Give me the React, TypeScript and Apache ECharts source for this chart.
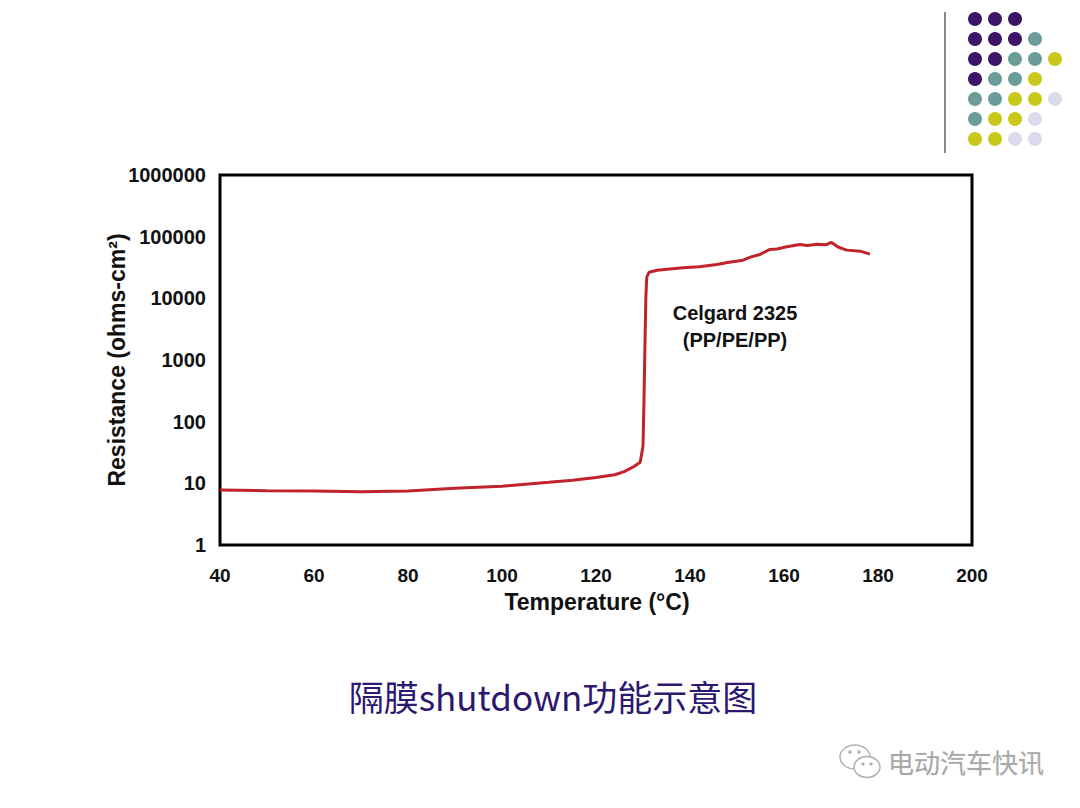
import React, { useEffect, useRef } from "react";
import * as echarts from "echarts";

const temps = [40, 50, 60, 70, 80, 90, 100, 110, 115, 120, 124, 126, 128, 129.4, 130.0, 130.2, 130.4, 130.6, 130.8, 131.3, 133, 138.5, 142, 145.7, 148, 151.3, 153, 154.9, 157, 158.5, 160.6, 163.4, 165, 167, 169, 170.1, 171.5, 173.3, 176.2, 178.3];
const resistance = [7.8, 7.6, 7.5, 7.3, 7.5, 8.3, 9.0, 10.4, 11.2, 12.4, 13.8, 15.5, 18.6, 22, 40, 200, 1500, 10000, 22000, 26500, 28500, 31200, 32500, 35400, 38000, 41600, 47000, 51500, 62200, 63000, 68400, 74700, 72000, 75500, 74000, 80500, 68000, 60500, 58200, 52000];

const xTicks = [40, 60, 80, 100, 120, 140, 160, 180, 200];
const yTicks = [1, 10, 100, 1000, 10000, 100000, 1000000];

const xTitle = "Temperature (°C)";
const yTitle = "Resistance (ohms-cm²)";
const annotation = ["Celgard 2325", "(PP/PE/PP)"];
const caption = "隔膜shutdown功能示意图";
const watermark = "电动汽车快讯";

// decorative dot grid: P purple, T teal, Y yellow, L lavender
const dotRows = ["PPP", "PPPT", "PPTTY", "PTTY", "TTYYL", "TYYL", "YYLL"];
const dotColors: Record<string, string> = { P: "#3c1468", T: "#6c9c99", Y: "#c9c91c", L: "#dadaec" };

export default function App() {
  const ref = useRef<HTMLDivElement>(null);
  useEffect(() => {
    if (!ref.current) return;
    const chart = echarts.init(ref.current, undefined, { renderer: "svg" });
    const font = "'Liberation Sans', Arial, sans-serif";
    const dots: any[] = [];
    dotRows.forEach((row, r) => {
      row.split("").forEach((c, i) => {
        dots.push({
          type: "circle",
          shape: { cx: 975 + i * 20, cy: 19 + r * 20, r: 7 },
          style: { fill: dotColors[c] },
          silent: true,
        });
      });
    });
    chart.setOption({
      animation: false,
      backgroundColor: "#ffffff",
      grid: {
        left: 220,
        top: 175,
        right: 108,
        bottom: 263,
        show: true,
        borderColor: "#000",
        borderWidth: 3,
        backgroundColor: "transparent",
      },
      xAxis: {
        type: "value",
        min: 40,
        max: 200,
        interval: 20,
        axisLine: { show: false },
        axisTick: { show: false },
        splitLine: { show: false },
        axisLabel: {
          margin: 21,
          color: "#111",
          fontFamily: font,
          fontWeight: "bold",
          fontSize: 19,
          formatter: (v: number) => (xTicks.includes(v) ? String(v) : ""),
        },
      },
      yAxis: {
        type: "log",
        logBase: 10,
        min: 1,
        max: 1000000,
        splitNumber: 6,
        axisLine: { show: false },
        axisTick: { show: false },
        splitLine: { show: false },
        axisLabel: {
          margin: 14,
          color: "#111",
          fontFamily: font,
          fontWeight: "bold",
          fontSize: 20,
          formatter: (v: number) => {
            const r = Math.round(v);
            return yTicks.includes(r) ? String(r) : "";
          },
        },
      },
      series: [
        {
          type: "line",
          data: temps.map((t, i) => [t, resistance[i]]),
          showSymbol: false,
          symbol: "none",
          lineStyle: { color: "#c1232b", width: 3 },
          silent: true,
        },
      ],
      graphic: [
        {
          type: "text",
          x: 597,
          y: 602,
          style: {
            text: xTitle,
            font: `bold 23px ${font}`,
            fill: "#111",
            textAlign: "center",
            textVerticalAlign: "middle",
          },
        },
        {
          type: "text",
          x: 117,
          y: 360,
          rotation: Math.PI / 2,
          style: {
            text: yTitle,
            font: `bold 23px ${font}`,
            fill: "#111",
            textAlign: "center",
            textVerticalAlign: "middle",
          },
        },
        {
          type: "text",
          x: 735,
          y: 313,
          style: {
            text: annotation[0],
            font: `bold 20px ${font}`,
            fill: "#111",
            textAlign: "center",
            textVerticalAlign: "middle",
          },
        },
        {
          type: "text",
          x: 735,
          y: 340,
          style: {
            text: annotation[1],
            font: `bold 20px ${font}`,
            fill: "#111",
            textAlign: "center",
            textVerticalAlign: "middle",
          },
        },
        {
          type: "text",
          x: 553,
          y: 695,
          style: {
            text: caption,
            font: `35px 'Noto Sans CJK SC', sans-serif`,
            fill: "#2c1870",
            textAlign: "center",
            textVerticalAlign: "middle",
          },
        },
        {
          type: "line",
          shape: { x1: 945, y1: 12, x2: 945, y2: 153 },
          style: { stroke: "#8a8a8a", lineWidth: 2 },
        },
        ...dots,
        // wechat-like icon
        {
          type: "ellipse",
          shape: { cx: 855, cy: 757, rx: 15, ry: 12 },
          style: { fill: "#fff", stroke: "#b0b0b0", lineWidth: 1.5 },
        },
        {
          type: "ellipse",
          shape: { cx: 867, cy: 767, rx: 13, ry: 10.5 },
          style: { fill: "#fff", stroke: "#b0b0b0", lineWidth: 1.5 },
        },
        { type: "circle", shape: { cx: 850, cy: 752, r: 1.8 }, style: { fill: "#b0b0b0" } },
        { type: "circle", shape: { cx: 859, cy: 752, r: 1.8 }, style: { fill: "#b0b0b0" } },
        { type: "circle", shape: { cx: 863, cy: 764, r: 1.6 }, style: { fill: "#b0b0b0" } },
        { type: "circle", shape: { cx: 871, cy: 764, r: 1.6 }, style: { fill: "#b0b0b0" } },
        {
          type: "text",
          x: 888,
          y: 761,
          style: {
            text: watermark,
            font: `26px 'Noto Sans CJK SC', sans-serif`,
            fill: "#a8a8a8",
            stroke: "#e6e6e6",
            lineWidth: 0.5,
            textAlign: "left",
            textVerticalAlign: "middle",
          },
        },
      ],
    });
    return () => chart.dispose();
  }, []);
  return (
    <div
      ref={ref}
      style={{ position: "absolute", left: 0, top: 0, width: 1080, height: 808, background: "#fff" }}
    />
  );
}
